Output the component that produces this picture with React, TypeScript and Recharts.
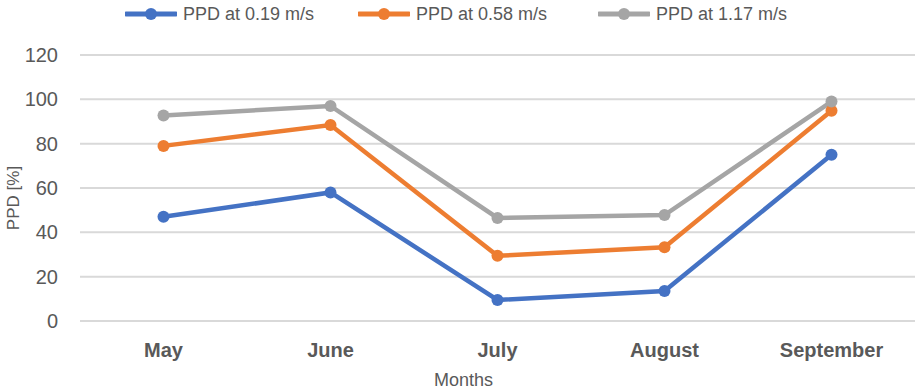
import React from 'react';
import { LineChart, Line, XAxis, YAxis, CartesianGrid } from 'recharts';

const months = ['May', 'June', 'July', 'August', 'September'];
const ppd019 = [47, 58, 9.5, 13.5, 75];
const ppd058 = [79, 88.4, 29.4, 33.3, 94.8];
const ppd117 = [92.7, 97, 46.5, 47.8, 99];
const yTicks = [0, 20, 40, 60, 80, 100, 120];
const seriesNames = ['PPD at 0.19 m/s', 'PPD at 0.58 m/s', 'PPD at 1.17 m/s'];
const colors = ['#4472C4', '#ED7D31', '#A5A5A5'];

const data = months.map((m, i) => ({ month: m, s1: ppd019[i], s2: ppd058[i], s3: ppd117[i] }));

const FONT = '"Liberation Sans", Arial, sans-serif';
const TEXT = '#595959';

const legendX = [125, 358, 598];

export default function App() {
  return (
    <div style={{ position: 'absolute', left: 0, top: 0, width: 920, height: 392, background: '#fff', fontFamily: FONT }}>
      {seriesNames.map((n, i) => (
        <div key={n} style={{ position: 'absolute', left: legendX[i], top: 3, height: 22, display: 'flex', alignItems: 'center' }}>
          <svg width={52} height={22}>
            <line x1={1} y1={11} x2={51} y2={11} stroke={colors[i]} strokeWidth={5} strokeLinecap="round" />
            <circle cx={26} cy={11} r={6} fill={colors[i]} />
          </svg>
          <span style={{ marginLeft: 6, fontSize: 18, color: TEXT, whiteSpace: 'nowrap', lineHeight: '22px' }}>{n}</span>
        </div>
      ))}
      <LineChart width={920} height={392} data={data} margin={{ top: 55, right: 5, left: 0, bottom: 11 }} style={{ fontFamily: FONT }}>
        <CartesianGrid vertical={false} stroke="#D9D9D9" strokeWidth={2} />
        <XAxis
          dataKey="month"
          scale="band"
          axisLine={false}
          tickLine={false}
          tickSize={0}
          tickMargin={22}
          height={60}
          tick={{ fill: TEXT, fontSize: 20, fontWeight: 'bold', fontFamily: FONT }}
          label={{ value: 'Months', position: 'insideBottom', offset: -5, dx: -34, fill: TEXT, fontSize: 18, fontFamily: FONT }}
        />
        <YAxis
          domain={[0, 120]}
          ticks={yTicks}
          axisLine={false}
          tickLine={false}
          tickSize={0}
          tickMargin={22}
          width={80}
          tick={{ fill: TEXT, fontSize: 20, fontFamily: FONT }}
          label={{ value: 'PPD [%]', angle: -90, position: 'insideLeft', offset: 13, dy: 10, fill: TEXT, fontSize: 17, fontFamily: FONT, style: { textAnchor: 'middle' } }}
        />
        <Line dataKey="s1" name={seriesNames[0]} stroke={colors[0]} strokeWidth={4.5} dot={{ r: 6, fill: colors[0], stroke: colors[0], strokeWidth: 0 }} isAnimationActive={false} />
        <Line dataKey="s2" name={seriesNames[1]} stroke={colors[1]} strokeWidth={4.5} dot={{ r: 6, fill: colors[1], stroke: colors[1], strokeWidth: 0 }} isAnimationActive={false} />
        <Line dataKey="s3" name={seriesNames[2]} stroke={colors[2]} strokeWidth={4.5} dot={{ r: 6, fill: colors[2], stroke: colors[2], strokeWidth: 0 }} isAnimationActive={false} />
      </LineChart>
    </div>
  );
}
